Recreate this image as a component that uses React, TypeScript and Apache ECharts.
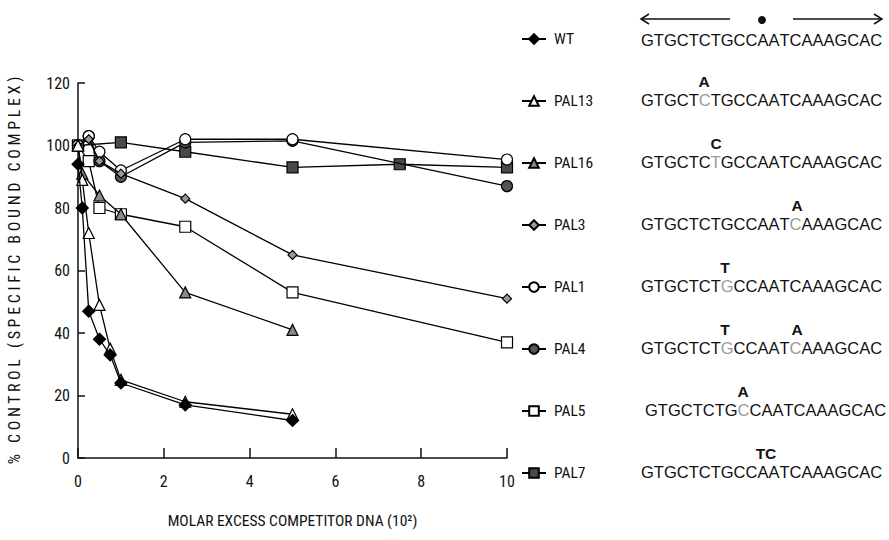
import React, { useEffect, useRef } from "react";
import * as echarts from "echarts";

const X_TICKS = [0, 2, 4, 6, 8, 10];
const Y_TICKS = [0, 20, 40, 60, 80, 100, 120];

const SERIES_NAMES = ["WT", "PAL13", "PAL16", "PAL3", "PAL1", "PAL4", "PAL5", "PAL7"];

const WT_DATA = [[0, 94], [0.1, 80], [0.25, 47], [0.5, 38], [0.75, 33], [1, 24], [2.5, 17], [5, 12]];
const PAL13_DATA = [[0, 100], [0.1, 89], [0.25, 72], [0.5, 49], [0.75, 35], [1, 25], [2.5, 18], [5, 14]];
const PAL16_DATA = [[0, 100], [0.1, 91], [0.5, 84], [1, 78], [2.5, 53], [5, 41]];
const PAL3_DATA = [[0, 100], [0.25, 102], [0.5, 95], [1, 91], [2.5, 83], [5, 65], [10, 51]];
const PAL1_DATA = [[0, 100], [0.25, 103], [0.5, 98], [1, 92], [2.5, 102], [5, 102], [10, 95.5]];
const PAL4_DATA = [[0, 100], [0.25, 103], [0.5, 95], [1, 90], [2.5, 101], [5, 101.5], [10, 87]];
const PAL5_DATA = [[0, 100], [0.25, 95], [0.5, 80], [1, 78], [2.5, 74], [5, 53], [10, 37]];
const PAL7_DATA = [[0, 100], [1, 101], [2.5, 98], [5, 93], [7.5, 94], [10, 93]];

const SEQUENCE = "GTGCTCTGCCAATCAAAGCAC";
// mutated positions (1-based) per row, and the letters written above
const MUT_POS: number[][] = [[], [6], [7], [14], [8], [8, 14], [9], []];
const MUT_LABELS: string[][] = [[], ["A"], ["C"], ["A"], ["T"], ["T", "A"], ["A"], ["TC"]];
const MUT_LABEL_X: number[][] = [[], [704], [716], [797], [725], [725, 797], [743], [766]];

const X_NAME = "MOLAR EXCESS COMPETITOR DNA (10\u00B2)";
const Y_NAME = "% CONTROL (SPECIFIC BOUND COMPLEX)";

const FONT = "'Liberation Sans Narrow', 'Roboto Condensed', 'Liberation Sans', Arial, sans-serif";
const SEQ_FONT = "'Liberation Sans', Arial, sans-serif";

export default function App() {
  const ref = useRef<HTMLDivElement>(null);

  useEffect(() => {
    if (!ref.current) return;
    const chart = echarts.init(ref.current, undefined, { renderer: "svg" });

    const datasets = [WT_DATA, PAL13_DATA, PAL16_DATA, PAL3_DATA, PAL1_DATA, PAL4_DATA, PAL5_DATA, PAL7_DATA];
    const symbols = ["diamond", "triangle", "triangle", "diamond", "circle", "circle", "rect", "rect"];
    const sizes = [12, 11, 11, 9, 11, 11, 11, 11];
    const fills = ["#000", "#fff", "#8a8a8a", "#9a9a9a", "#fff", "#555", "#fff", "#4a4a4a"];

    const series = SERIES_NAMES.map((name, i) => ({
      name,
      type: "line",
      data: datasets[i],
      symbol: symbols[i],
      symbolSize: sizes[i],
      showAllSymbol: true,
      lineStyle: { color: "#000", width: 1.3 },
      itemStyle: { color: fills[i], borderColor: "#000", borderWidth: 1.2 },
      z: 10 - i,
    }));

    const rowY = [40, 100, 162, 224, 286, 348, 410, 472];
    const seqX = [641, 641, 641, 641, 641, 641, 645, 641];

    const graphics: any[] = [];
    rowY.forEach((y, r) => {
      const chars = SEQUENCE.split("");
      let text = "";
      chars.forEach((c, k) => {
        const style = MUT_POS[r].includes(k + 1) ? "m" : "n";
        text += `{${style}|${c}}`;
      });
      graphics.push({
        type: "text",
        style: {
          x: seqX[r],
          y,
          text,
          verticalAlign: "middle",
          align: "left",
          rich: {
            n: { fontSize: 16.5, fontFamily: SEQ_FONT, fill: "#111", fontWeight: 500 },
            m: { fontSize: 16.5, fontFamily: SEQ_FONT, fill: "#9a9a9a", fontWeight: 500 },
          },
        },
      });
      MUT_LABELS[r].forEach((lab, k) => {
        graphics.push({
          type: "text",
          style: {
            x: MUT_LABEL_X[r][k],
            y: y - 19,
            text: lab,
            align: "center",
            verticalAlign: "middle",
            fontSize: 15.5,
            fontWeight: "bold",
            fontFamily: SEQ_FONT,
            fill: "#111",
          },
        });
      });
    });
    // palindrome arrows
    graphics.push(
      { type: "line", shape: { x1: 641, y1: 19, x2: 730, y2: 19 }, style: { stroke: "#111", lineWidth: 1.3 } },
      { type: "polyline", shape: { points: [[649, 14], [641, 19], [649, 24]] }, style: { stroke: "#111", lineWidth: 1.5, fill: "none" } },
      { type: "circle", shape: { cx: 762, cy: 20, r: 4 }, style: { fill: "#111" } },
      { type: "line", shape: { x1: 793, y1: 19, x2: 882, y2: 19 }, style: { stroke: "#111", lineWidth: 1.3 } },
      { type: "polyline", shape: { points: [[874, 14], [882, 19], [874, 24]] }, style: { stroke: "#111", lineWidth: 1.5, fill: "none" } }
    );

    const yName = Y_NAME.split(" ").map((w) => w.split("").join(" ")).join("   ");

    chart.setOption({
      animation: false,
      backgroundColor: "#fff",
      grid: { left: 78, right: 382, top: 83, bottom: 82, containLabel: false },
      xAxis: {
        type: "value",
        min: 0,
        max: 10,
        interval: 2,
        name: X_NAME,
        nameLocation: "middle",
        nameGap: 55,
        nameTextStyle: { fontSize: 15.5, fontFamily: FONT, color: "#111" },
        axisLine: { lineStyle: { color: "#111", width: 1.5 } },
        axisTick: { inside: true, length: 10, lineStyle: { color: "#111", width: 1.5 } },
        axisLabel: {
          fontSize: 16,
          fontFamily: FONT,
          color: "#111",
          margin: 15,
          formatter: (v: number) => (X_TICKS.includes(v) ? String(v) : ""),
        },
        splitLine: { show: false },
      },
      yAxis: {
        type: "value",
        min: 0,
        max: 120,
        interval: 20,
        name: yName,
        nameLocation: "middle",
        nameGap: 56,
        nameRotate: 90,
        nameTextStyle: { fontSize: 16, fontFamily: FONT, color: "#111" },
        axisLine: { show: true, lineStyle: { color: "#111", width: 1.5 } },
        axisTick: { show: true, inside: true, length: 7, lineStyle: { color: "#111", width: 1.5 } },
        axisLabel: {
          fontSize: 16,
          fontFamily: FONT,
          color: "#111",
          margin: 8,
          formatter: (v: number) => (Y_TICKS.includes(v) ? String(v) : ""),
        },
        splitLine: { show: false },
      },
      legend: {
        orient: "vertical",
        left: 521,
        top: 31,
        padding: 0,
        itemWidth: 24,
        itemHeight: 12,
        itemGap: 46,
        selectedMode: false,
        data: SERIES_NAMES,
        textStyle: { fontSize: 15.5, fontFamily: FONT, color: "#111", padding: [0, 0, 0, 3] },
      },
      graphic: graphics,
      series,
    });

    return () => chart.dispose();
  }, []);

  return (
    <div
      ref={ref}
      style={{ position: "fixed", left: 0, top: 0, width: 889, height: 540, background: "#fff" }}
    />
  );
}
